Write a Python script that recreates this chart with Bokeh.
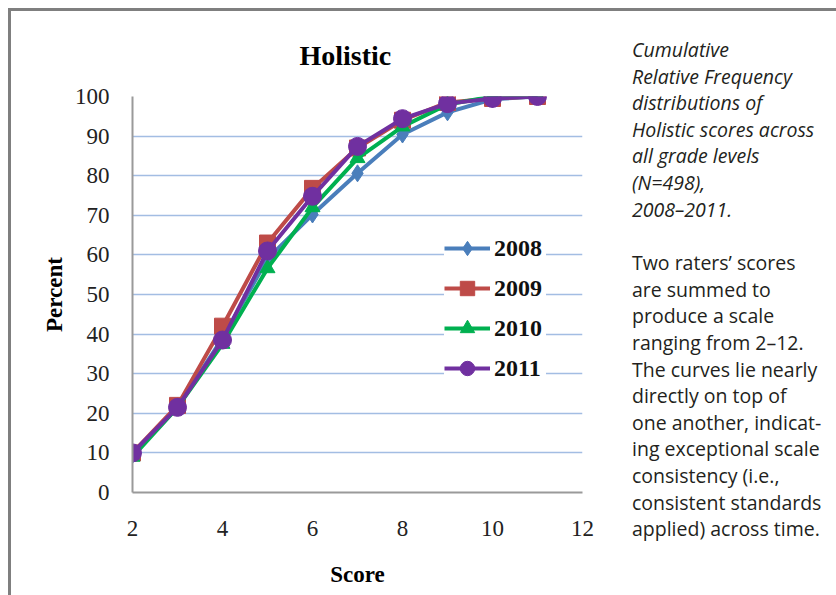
from bokeh.plotting import figure
from bokeh.models import Range1d, FixedTicker, Legend, LegendItem, Div
from bokeh.layouts import row
from bokeh.embed import file_html
from bokeh.resources import INLINE

scores = [2, 3, 4, 5, 6, 7, 8, 9, 10, 11]
pct_2008 = [9.5, 21.5, 39.0, 59.0, 70.2, 80.6, 90.4, 96.0, 99.3, 100.0]
pct_2009 = [10.0, 22.0, 42.0, 63.0, 76.8, 87.0, 94.0, 98.5, 99.5, 100.0]
pct_2010 = [9.0, 21.5, 37.5, 56.6, 72.0, 84.4, 92.4, 98.0, 100.0, 100.0]
pct_2011 = [10.0, 21.5, 38.5, 61.0, 74.8, 87.4, 94.4, 98.2, 99.5, 100.0]
years = ["2008", "2009", "2010", "2011"]
x_ticks = [2, 4, 6, 8, 10, 12]
y_ticks = [0, 10, 20, 30, 40, 50, 60, 70, 80, 90, 100]

series = [
    (years[0], pct_2008, "#4a7ebb", "diamond", 17),
    (years[1], pct_2009, "#be4b48", "square", 16),
    (years[2], pct_2010, "#00b050", "triangle", 15),
    (years[3], pct_2011, "#7030a0", "circle", 18),
]

SERIF = "Liberation Serif"

p = figure(width=610, height=583, x_range=Range1d(2, 12), y_range=Range1d(0, 100),
           output_backend="svg", toolbar_location=None, title="Holistic",
           min_border_left=121, min_border_right=39, min_border_top=85,
           min_border_bottom=102)
p.outline_line_color = None
p.background_fill_color = "white"
p.border_fill_color = "white"

p.title.text_font = SERIF
p.title.text_font_size = "28px"
p.title.text_font_style = "bold"
p.title.text_color = "black"
p.title.text_line_height = 0.9
p.title.align = "left"
p.title.offset = 167
p.title.standoff = 51

p.xgrid.grid_line_color = None
p.ygrid.grid_line_color = "#a3bde3"
p.ygrid.grid_line_width = 1.6
p.ygrid.ticker = FixedTicker(ticks=y_ticks)

for ax in (p.xaxis[0], p.yaxis[0]):
    ax.axis_line_color = "#9a9a9a"
    ax.axis_line_width = 2
    ax.major_tick_line_color = None
    ax.minor_tick_line_color = None
    ax.major_label_text_font = SERIF
    ax.major_label_text_font_size = "23px"
    ax.major_label_text_color = "#222222"
    ax.axis_label_text_font = SERIF
    ax.axis_label_text_font_size = "23px"
    ax.axis_label_text_font_style = "bold"
    ax.axis_label_text_color = "black"

p.xaxis.ticker = FixedTicker(ticks=x_ticks)
p.yaxis.ticker = FixedTicker(ticks=y_ticks)
p.xaxis.axis_label = "Score"
p.yaxis.axis_label = "Percent"
p.xaxis.major_label_standoff = 22
p.xaxis.axis_label_standoff = 23
p.yaxis.major_label_standoff = 17
p.yaxis.axis_label_standoff = 5

items = []
for name, vals, color, marker, size in series:
    lr = p.line(scores, vals, line_color=color, line_width=4)
    sr = p.scatter(scores, vals, marker=marker, size=size, fill_color=color,
                   line_color=color)
    items.append(LegendItem(label=name, renderers=[lr, sr]))

legend = Legend(items=items, location=(312, 106))
legend.label_text_font = SERIF
legend.label_text_font_size = "24px"
legend.label_text_font_style = "bold"
legend.label_text_color = "#111111"
legend.glyph_width = 46
legend.glyph_height = 36
legend.label_height = 26
legend.label_width = 52
legend.label_standoff = 4
legend.spacing = 4
legend.padding = 6
legend.margin = 0
legend.border_line_color = None
legend.background_fill_color = "white"
legend.background_fill_alpha = 1.0
p.add_layout(legend, "center")

caption_1 = ["Cumulative", "Relative Frequency", "distributions of",
             "Holistic scores across", "all grade levels", "(N=498),", "2008\u20132011."]
caption_2 = ["Two raters\u2019 scores", "are summed to", "produce a scale",
             "ranging from 2\u201312.", "The curves lie nearly", "directly on top of",
             "one another, indicat-", "ing exceptional scale",
             "consistency (i.e.,", "consistent standards", "applied) across time."]

html = (
    '<div style="font-family:\'Open Sans\', sans-serif; font-size:19.5px; line-height:26.6px; '
    'color:#231f20; white-space:nowrap; padding-left:6px; padding-top:21px;">'
    '<div style="font-style:italic;">' + "<br>".join(caption_1) + '</div>'
    '<div style="margin-top:27px;">' + "<br>".join(caption_2) + '</div>'
    '</div>'
)
div = Div(text=html, width=213, height=583)

layout = row(p, div, styles={"border-top": "3px solid #7f7f7f",
                             "border-left": "3px solid #7f7f7f",
                             "background-color": "white",
                             "margin-left": "8px", "margin-top": "8px"})

open("out.html", "w").write(file_html(layout, INLINE))
